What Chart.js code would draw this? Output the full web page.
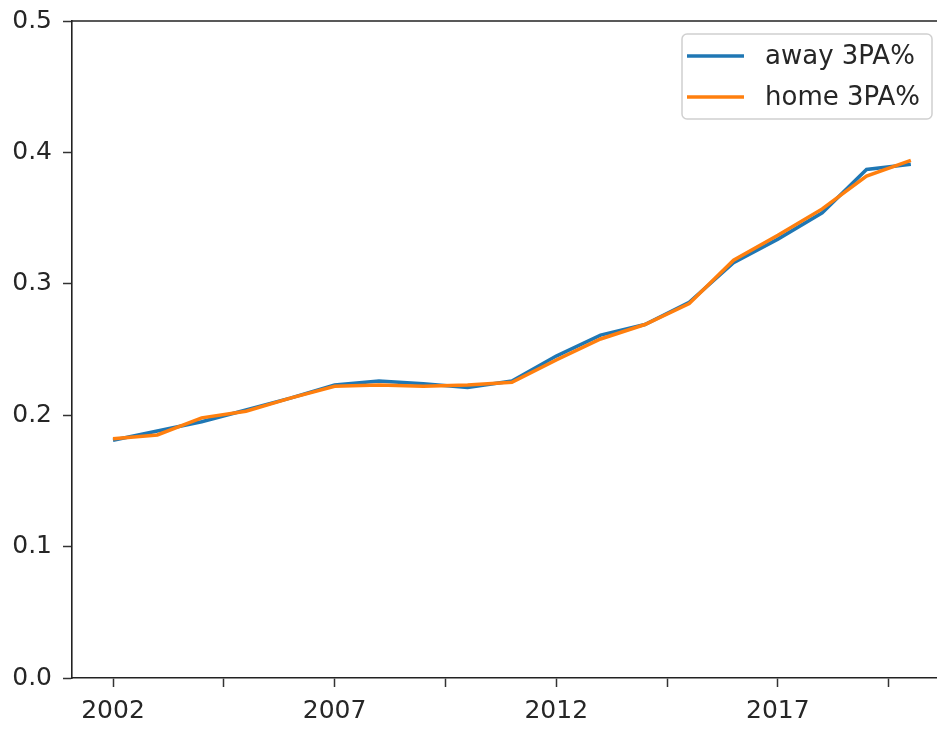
<!DOCTYPE html>
<html>
<head>
<meta charset="utf-8">
<script src="https://cdn.jsdelivr.net/npm/chart.js@4.4.0/dist/chart.umd.min.js"></script>
<style>
  body { margin: 0; background: #fff; overflow: hidden; }
</style>
</head>
<body>
<canvas id="chart" width="937" height="730"></canvas>
<script>
const years = [2002, 2003, 2004, 2005, 2006, 2007, 2008, 2009, 2010, 2011,
               2012, 2013, 2014, 2015, 2016, 2017, 2018, 2019, 2020];
const away3PA = [0.181, 0.188, 0.195, 0.204, 0.213, 0.223, 0.226, 0.224, 0.221, 0.226,
                 0.245, 0.261, 0.269, 0.286, 0.316, 0.334, 0.354, 0.387, 0.391];
const home3PA = [0.182, 0.185, 0.198, 0.203, 0.213, 0.222, 0.223, 0.222, 0.223, 0.225,
                 0.242, 0.258, 0.269, 0.285, 0.318, 0.337, 0.357, 0.382, 0.394];
const xTicks = [2002, 2004.5, 2007, 2009.5, 2012, 2014.5, 2017, 2019.5];
const xLabels = [2002, 2007, 2012, 2017];
const yTicks = [0, 0.1, 0.2, 0.3, 0.4, 0.5];

const tickFont = { family: 'DejaVu Sans', size: 25 };
const ink = '#262626';

// top spine + matplotlib style legend box
const extras = {
  id: 'extras',
  afterDraw(chart) {
    const ctx = chart.ctx;
    const a = chart.chartArea;
    ctx.save();
    ctx.strokeStyle = '#222';
    ctx.lineWidth = 1.6;
    ctx.beginPath();
    ctx.moveTo(a.left, a.top);
    ctx.lineTo(a.right, a.top);
    ctx.stroke();

    // legend
    const bx = 682, by = 34, bw = 250, bh = 85;
    ctx.fillStyle = 'rgba(255,255,255,0.8)';
    ctx.strokeStyle = '#d0d0d0';
    ctx.lineWidth = 1.5;
    ctx.beginPath();
    ctx.roundRect(bx, by, bw, bh, 5);
    ctx.fill();
    ctx.stroke();
    ctx.font = '26px "DejaVu Sans"';
    ctx.textBaseline = 'middle';
    chart.data.datasets.forEach((ds, i) => {
      const y = 56 + i * 41;
      ctx.strokeStyle = ds.borderColor;
      ctx.lineWidth = 3.5;
      ctx.beginPath();
      ctx.moveTo(687, y);
      ctx.lineTo(744, y);
      ctx.stroke();
      ctx.fillStyle = ink;
      ctx.fillText(ds.label, 765, y + 1);
    });
    ctx.restore();
  }
};

const ctx = document.getElementById('chart').getContext('2d');
new Chart(ctx, {
  type: 'line',
  data: {
    datasets: [
      {
        label: 'away 3PA%',
        data: years.map((y, i) => ({ x: y, y: away3PA[i] })),
        borderColor: '#1f77b4',
        borderWidth: 3.5,
        pointRadius: 0,
        tension: 0,
        fill: false,
        order: 1,
      },
      {
        label: 'home 3PA%',
        data: years.map((y, i) => ({ x: y, y: home3PA[i] })),
        borderColor: '#ff7f0e',
        borderWidth: 3.5,
        pointRadius: 0,
        tension: 0,
        fill: false,
        order: 0,
      },
    ],
  },
  options: {
    responsive: false,
    animation: false,
    layout: { padding: { top: 20, right: 0, left: 0, bottom: 0 } },
    plugins: {
      legend: { display: false },
      tooltip: { enabled: false },
    },
    scales: {
      x: {
        type: 'linear',
        min: 2001.075,
        max: 2020.59,
        afterBuildTicks: (scale) => { scale.ticks = xTicks.map(v => ({ value: v })); },
        afterFit: (scale) => { scale.height = 52; },
        grid: {
          drawOnChartArea: false,
          drawTicks: true,
          tickLength: 9,
          tickColor: '#333',
          tickWidth: 1.5,
        },
        border: { display: true, color: '#222', width: 1.6 },
        ticks: {
          autoSkip: false,
          maxRotation: 0,
          padding: 9,
          color: ink,
          font: tickFont,
          callback: (v) => xLabels.includes(v) ? String(v) : '',
        },
      },
      y: {
        min: 0,
        max: 0.5,
        afterBuildTicks: (scale) => { scale.ticks = yTicks.map(v => ({ value: v })); },
        afterFit: (scale) => { scale.width = 72; },
        grid: {
          drawOnChartArea: false,
          drawTicks: true,
          tickLength: 9,
          tickColor: '#333',
          tickWidth: 1.5,
        },
        border: { display: true, color: '#222', width: 1.6 },
        ticks: {
          padding: 11,
          color: ink,
          font: { family: 'DejaVu Sans', size: 25, lineHeight: 0.8 },
          callback: (v) => v.toFixed(1),
        },
      },
    },
  },
  plugins: [extras],
});
</script>
</body>
</html>
